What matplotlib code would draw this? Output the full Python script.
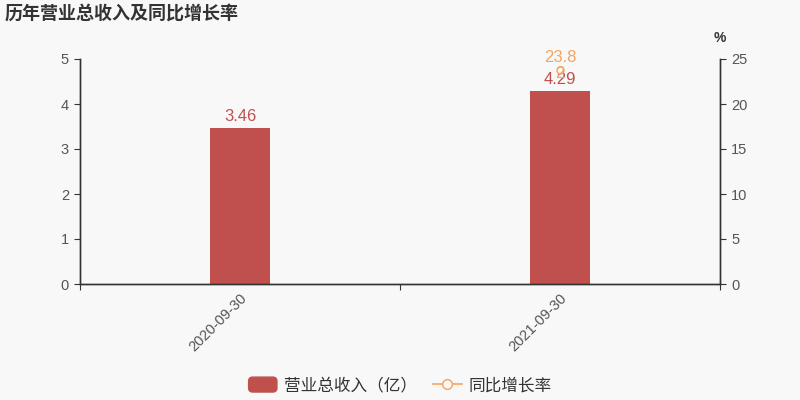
import matplotlib
matplotlib.use("Agg")
import matplotlib.pyplot as plt
import numpy as np
from matplotlib.lines import Line2D
from matplotlib.patches import FancyBboxPatch, Patch
from matplotlib.legend_handler import HandlerPatch

plt.rcParams['font.family'] = ['Liberation Sans', 'Noto Sans CJK SC', 'DejaVu Sans']

categories = ["2020-09-30", "2021-09-30"]
revenue = [3.46, 4.29]
growth = [np.nan, 23.82]
growth_labels = ["", "23.8\n2"]

bg = "#f8f8f8"
bar_color = "#c0504d"
line_color = "#f4a460"
axis_color = "#333333"
text_color = "#555555"

fig = plt.figure(figsize=(8, 4), dpi=100, facecolor=bg)
ax = fig.add_axes([0.1, 0.29, 0.8, 0.5625], facecolor=bg)
ax2 = ax.twinx()

x = np.arange(len(categories))
ax.bar(x, revenue, width=0.1875, color=bar_color, zorder=2)
for xi, v in zip(x, revenue):
    ax.annotate(f"{v:.2f}", (xi, v), xytext=(0, 3), textcoords="offset points",
                ha="center", va="bottom", color=bar_color, fontsize=12)

ax.set_xlim(-0.5, len(categories) - 0.5)
ax.set_ylim(0, 5)
ax.set_yticks([0, 1, 2, 3, 4, 5])
ax.set_xticks(np.arange(-0.5, len(categories), 1.0))
ax.set_xticklabels([])
ax.set_xticks(x, minor=True)
ax.set_xticklabels(categories, minor=True, rotation=45, ha="right", rotation_mode="anchor",
                   color=text_color, fontsize=10.5)
ax.tick_params(axis="x", which="minor", length=0, pad=5)
ax.tick_params(axis="x", which="major", length=4, color=axis_color)
ax.tick_params(axis="y", length=4, color=axis_color, labelcolor=text_color, labelsize=10.5, pad=4)

ax2.plot(x, growth, color=line_color, marker="o", markersize=5, markerfacecolor=bg,
         markeredgecolor=line_color, linewidth=1.2, zorder=3)
for xi, v, lab in zip(x, growth, growth_labels):
    if not np.isnan(v):
        ax2.annotate(lab, (xi, v), xytext=(0, -8), textcoords="offset points",
                     ha="center", va="bottom", color=line_color, fontsize=12, linespacing=1.05)
ax2.set_ylim(0, 25)
ax2.set_yticks([0, 5, 10, 15, 20, 25])
ax2.tick_params(axis="y", length=4, color=axis_color, labelcolor=text_color, labelsize=10.5, pad=4)
ax2.text(1.0, 1.06, "%", transform=ax2.transAxes, ha="center", va="bottom",
         fontsize=10, color=axis_color, fontweight="bold")

for a in (ax, ax2):
    a.spines["top"].set_visible(False)
    for s in ("left", "right", "bottom"):
        a.spines[s].set_color(axis_color)
        a.spines[s].set_linewidth(1)

fig.text(0.006, 0.965, "历年营业总收入及同比增长率", fontsize=13, fontweight="bold",
         color="#333333", ha="left", va="center")


def rounded_patch(legend, orig_handle, xdescent, ydescent, width, height, fontsize):
    return FancyBboxPatch((-xdescent, -ydescent), width, height,
                          boxstyle="round,pad=0,rounding_size=3")


handles = [Patch(facecolor=bar_color, edgecolor=bar_color),
           Line2D([0], [0], color=line_color, marker="o", markersize=7,
                  markerfacecolor=bg, markeredgecolor=line_color, linewidth=1.2)]
leg = fig.legend(handles, ["营业总收入（亿）", "同比增长率"], loc="center",
                 bbox_to_anchor=(0.5, 0.037), ncol=2, frameon=False, fontsize=12,
                 handlelength=1.7, handleheight=1.0, handletextpad=0.4, columnspacing=1.0,
                 handler_map={Patch: HandlerPatch(patch_func=rounded_patch)})
for t in leg.get_texts():
    t.set_color("#333333")

fig.savefig("out.png", dpi=100, facecolor=bg)
